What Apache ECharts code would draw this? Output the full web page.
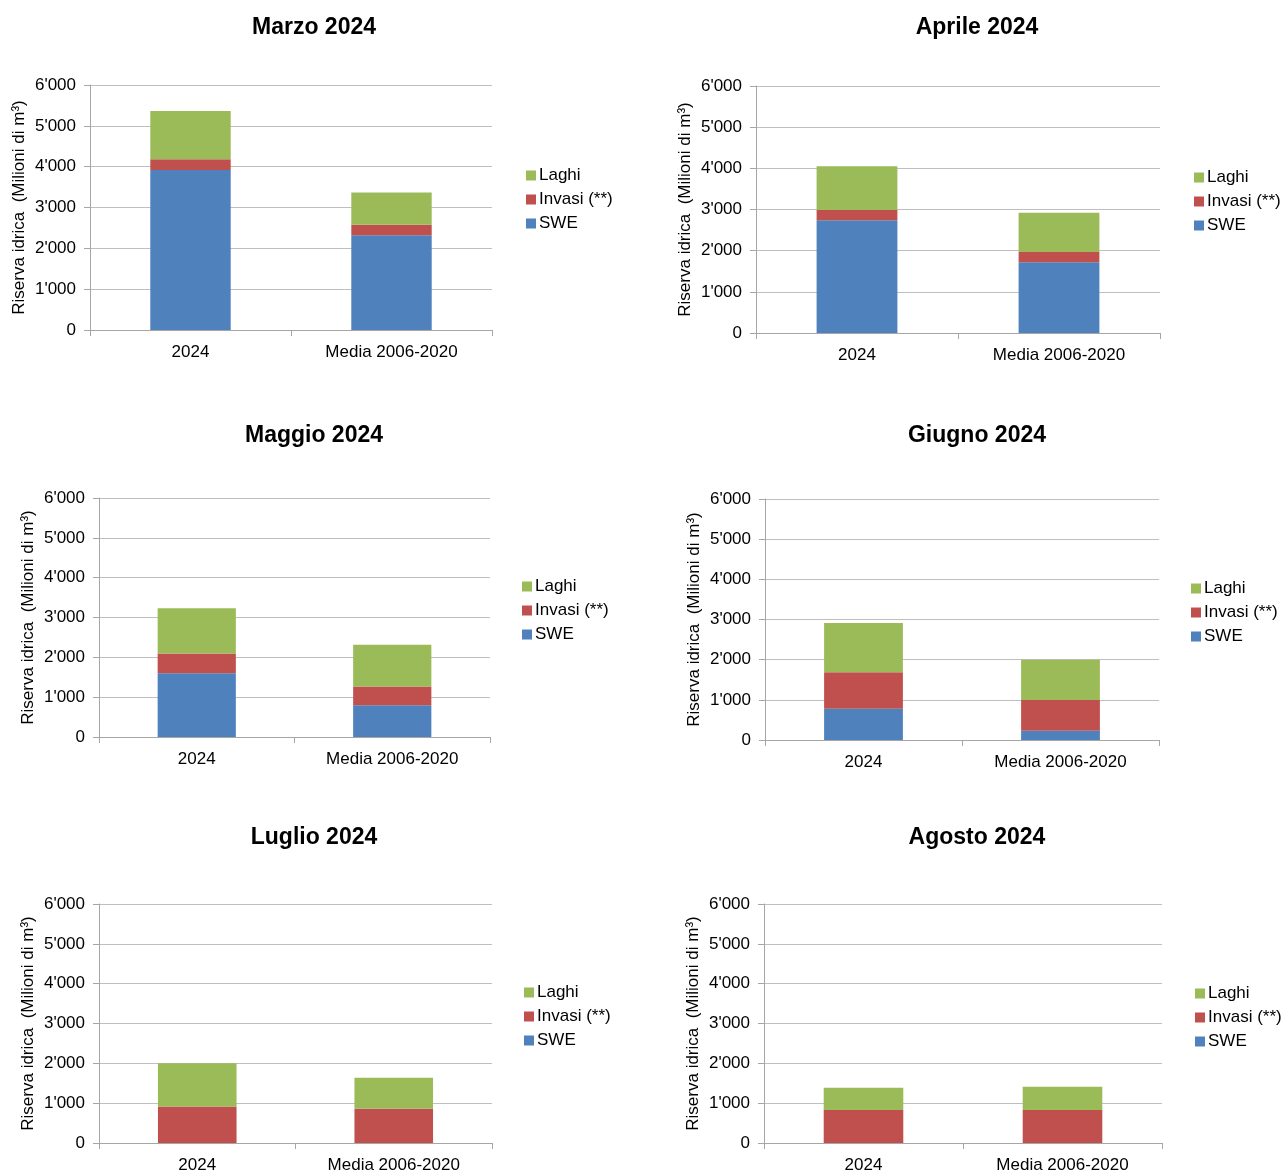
<!DOCTYPE html>
<html>
<head>
<meta charset="utf-8">
<script src="https://cdn.jsdelivr.net/npm/echarts@6/dist/echarts.min.js"></script>
<style>
html,body{margin:0;padding:0;background:#fff;}
#chart{width:1283px;height:1174px;}
</style>
</head>
<body>
<div id="chart"></div>
<script>
// ---- data ----
const panelTitles = ['Marzo 2024', 'Aprile 2024', 'Maggio 2024', 'Giugno 2024', 'Luglio 2024', 'Agosto 2024'];
const categories = ['2024', 'Media 2006-2020'];
const seriesNames = ['SWE', 'Invasi (**)', 'Laghi'];
const legendOrder = ['Laghi', 'Invasi (**)', 'SWE'];
// per panel: [2024, Media 2006-2020]
const sweValues    = [[3920, 2320], [2740, 1720], [1600, 800], [780, 230], [0, 0], [0, 0]];
const invasiValues = [[260, 260],   [250, 250],   [495, 470],  [905, 765], [915, 860], [830, 830]];
const laghiValues  = [[1185, 785],  [1060, 950],  [1140, 1045],[1230, 1005],[1090, 775],[560, 580]];
const yMin = 0, yMax = 6000, yStep = 1000;
const yAxisName = 'Riserva idrica  (Milioni di m\u00B3)';

// ---- layout ----
const FONT = '"Liberation Sans", Arial, Helvetica, sans-serif';
const grids = [
  {left: 90,  top: 85,  width: 402, height: 245},
  {left: 756, top: 86,  width: 404, height: 247},
  {left: 99,  top: 498, width: 391, height: 239},
  {left: 765, top: 499, width: 394, height: 241},
  {left: 99,  top: 904, width: 393, height: 240},
  {left: 764, top: 904, width: 398, height: 243}
];
const titlePos = [
  {x: 314, y: 16}, {x: 977, y: 16},
  {x: 314, y: 424}, {x: 977, y: 424},
  {x: 314, y: 826}, {x: 977, y: 826}
];
const legendPos = [
  {x: 526, y: 167}, {x: 1194, y: 169},
  {x: 522, y: 578}, {x: 1191, y: 580},
  {x: 524, y: 984}, {x: 1195, y: 985}
];
const colors = {'SWE': '#4F81BD', 'Invasi (**)': '#C0504D', 'Laghi': '#9BBB59'};
const valuesByName = {'SWE': sweValues, 'Invasi (**)': invasiValues, 'Laghi': laghiValues};

function fmt(v) {
  if (v === 0) return '0';
  const th = Math.floor(v / 1000);
  const rest = v % 1000;
  return th > 0 ? th + "'" + String(rest).padStart(3, '0') : String(rest);
}

const option = {
  animation: false,
  backgroundColor: '#ffffff',
  textStyle: {fontFamily: FONT},
  title: [], legend: [], grid: [], xAxis: [], yAxis: [], series: []
};

panelTitles.forEach((t, i) => {
  option.title.push({
    text: t, left: titlePos[i].x, top: titlePos[i].y, textAlign: 'center', padding: 0,
    textStyle: {fontFamily: FONT, fontSize: 23, fontWeight: 'bold', color: '#000'}
  });
  option.grid.push(Object.assign({containLabel: false}, grids[i]));
  option.xAxis.push({
    type: 'category', gridIndex: i, data: categories, boundaryGap: true,
    axisLine: {show: true, lineStyle: {color: '#A6A6A6', width: 1}},
    axisTick: {show: true, alignWithLabel: false, length: 6, lineStyle: {color: '#A6A6A6'}},
    axisLabel: {color: '#000', fontSize: 17, fontFamily: FONT, margin: 14},
    splitLine: {show: false}
  });
  option.yAxis.push({
    type: 'value', gridIndex: i, min: yMin, max: yMax, interval: yStep,
    name: yAxisName, nameLocation: 'middle', nameRotate: 90, nameGap: 62,
    nameTextStyle: {color: '#000', fontSize: 17, fontFamily: FONT},
    axisLine: {show: true, lineStyle: {color: '#A6A6A6', width: 1}},
    axisTick: {show: true, length: 6, lineStyle: {color: '#A6A6A6'}},
    axisLabel: {color: '#000', fontSize: 17, fontFamily: FONT, margin: 14, formatter: fmt},
    splitLine: {show: true, lineStyle: {color: '#BFBFBF', width: 1}}
  });
  option.legend.push({
    orient: 'vertical', left: legendPos[i].x, top: legendPos[i].y, padding: 0,
    itemWidth: 10, itemHeight: 10, itemGap: 7, icon: 'rect',
    data: legendOrder,
    textStyle: {color: '#000', fontSize: 17, fontFamily: FONT, padding: [0, 0, 0, -2]}
  });
  seriesNames.forEach(name => {
    option.series.push({
      type: 'bar', name: name, xAxisIndex: i, yAxisIndex: i, stack: 'p' + i,
      barWidth: '40%', data: valuesByName[name][i],
      itemStyle: {color: colors[name]},
      emphasis: {disabled: true}
    });
  });
});

const chart = echarts.init(document.getElementById('chart'), null, {renderer: 'canvas'});
chart.setOption(option);
</script>
</body>
</html>
